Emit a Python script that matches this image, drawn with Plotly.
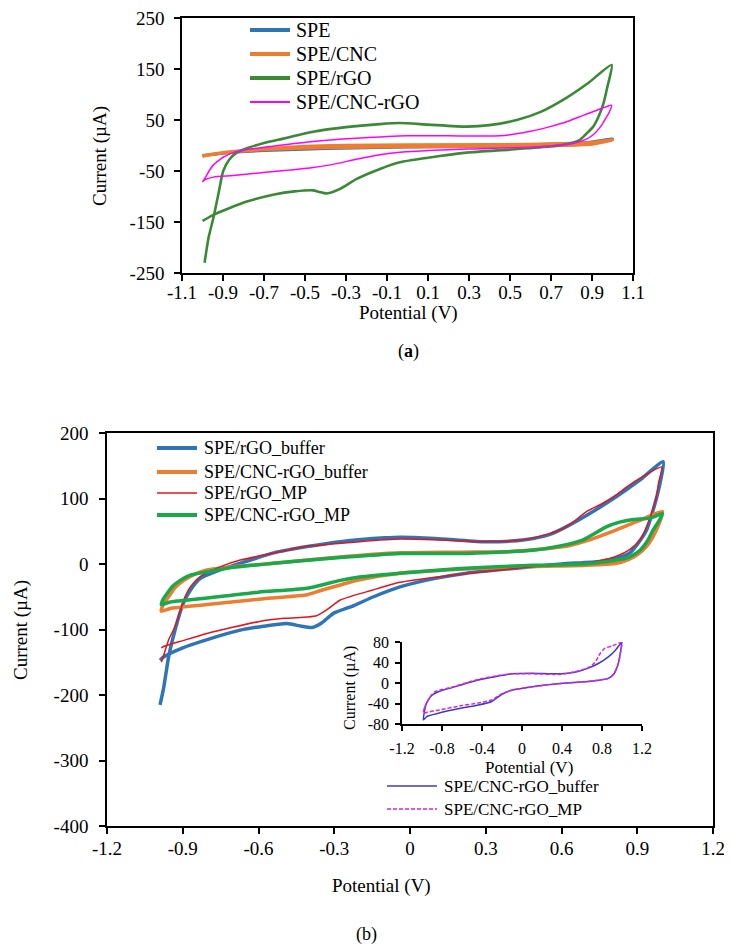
import plotly.graph_objects as go

W, H = 732, 948
OFF = 8  # page body margin in the browser

# ---------------- data: panel (a) ----------------
a_spe_v = [-1.0, -0.9, -0.7, -0.5, -0.3, 0.0, 0.3, 0.6, 0.8, 0.9, 1.0, 0.9, 0.7, 0.4, 0.0, -0.4, -0.7, -0.9, -1.0]
a_spe_i = [-20, -15, -8, -3, -1, 0, 1, 2, 4, 7, 13, 4, 0, -2, -3, -6, -10, -15, -20]

a_cnc_v = [-1.0, -0.98, -0.9, -0.7, -0.5, -0.3, 0.0, 0.3, 0.6, 0.8, 0.9, 1.0, 0.9, 0.7, 0.4, 0.0, -0.4, -0.7, -0.9, -1.0]
a_cnc_i = [-21, -19, -14, -7, -2, 0, 1, 1, 2, 4, 6, 11, 3, 0, -1, -2, -4, -8, -14, -20]

a_rgo_v = [-0.99, -0.97, -0.947, -0.92, -0.899, -0.87, -0.833, -0.78, -0.70, -0.6, -0.46, -0.3, -0.134, -0.04,
           0.1, 0.29, 0.4, 0.533, 0.65, 0.777, 0.88, 0.996,
           0.975, 0.955, 0.93, 0.906, 0.87, 0.841, 0.78, 0.695, 0.5, 0.289, 0.1, -0.037, -0.134, -0.25,
           -0.329, -0.394, -0.43, -0.46, -0.55, -0.65, -0.784, -0.87, -0.947, -1.0]
a_rgo_i = [-230, -180, -142, -90, -50, -28, -14, -5, 5, 14, 27, 36, 42, 44,
           41, 37, 40, 50, 66, 94, 122, 158,
           115, 81, 55, 37, 22, 11, 3, -2, -8, -14, -24, -33, -46, -66,
           -85, -94, -91, -88, -90, -96, -110, -123, -136, -148]

a_cncrgo_v = [-1.0, -0.985, -0.965, -0.947, -0.92, -0.899, -0.85, -0.784, -0.65, -0.46, -0.25, 0.0, 0.2, 0.451,
              0.6, 0.695, 0.78, 0.857, 0.93, 0.996,
              0.985, 0.971, 0.94, 0.906, 0.87, 0.825, 0.75, 0.613, 0.289, 0.1, -0.037, -0.134, -0.25, -0.362,
              -0.46, -0.6, -0.703, -0.85, -0.947, -0.988, -1.0]
a_cncrgo_i = [-72, -62, -48, -38, -29, -23, -14, -8, -1, 8, 14, 19, 19, 19,
              28, 37, 47, 59, 70, 79,
              66, 56, 36, 21, 12, 6, 1, -3, -7, -10, -13, -18, -27, -37,
              -43, -49, -53, -59, -62, -67, -71]

# ---------------- data: panel (b) ----------------
b_rgo_buf_v = [-0.99, -0.976, -0.955, -0.93, -0.9, -0.87, -0.83, -0.738, -0.64, -0.54, -0.4, -0.276, -0.1, -0.038,
               0.1, 0.29, 0.4, 0.488, 0.56, 0.62, 0.72, 0.818, 0.91, 1.003,
               0.99, 0.965, 0.937, 0.9, 0.871, 0.81, 0.752, 0.6, 0.488, 0.224, 0.1, -0.04, -0.144, -0.22,
               -0.302, -0.35, -0.388, -0.43, -0.487, -0.58, -0.672, -0.8, -0.9, -0.976, -0.99]
b_rgo_buf_i = [-215, -190, -140, -100, -62, -40, -22, -7, 5, 17, 27, 34, 40, 41,
               39, 34, 35, 39, 46, 57, 79, 103, 128, 156,
               123, 85, 52, 30, 17, 8, 4, 0, -4, -14, -22, -35, -50, -63,
               -75, -90, -97, -95, -91, -95, -101, -115, -128, -142, -147]

b_cnc_buf_v = [-0.985, -0.975, -0.956, -0.93, -0.896, -0.85, -0.804, -0.7, -0.54, -0.3, -0.038, 0.2, 0.4,
               0.62, 0.72, 0.818, 0.9, 1.0,
               0.985, 0.96, 0.937, 0.9, 0.86, 0.818, 0.7, 0.488, 0.2, -0.04, -0.2, -0.276, -0.35, -0.408,
               -0.55, -0.804, -0.95, -0.985]
b_cnc_buf_i = [-72, -60, -50, -36, -25, -15, -9, -4, 1, 10, 17, 18, 19,
               27, 38, 52, 65, 80,
               60, 40, 27, 14, 6, 1, -2, -4, -8, -14, -24, -32, -40, -47,
               -52, -62, -68, -72]

b_rgo_mp_v = [-0.985, -0.976, -0.955, -0.936, -0.915, -0.896, -0.87, -0.83, -0.75, -0.672, -0.55, -0.408, -0.2,
              -0.038, 0.1, 0.3, 0.45, 0.55, 0.6, 0.646, 0.699, 0.76, 0.818, 0.86, 0.911, 0.997,
              0.985, 0.976, 0.95, 0.911, 0.87, 0.818, 0.75, 0.686, 0.5, 0.356, 0.15, -0.04, -0.15, -0.276,
              -0.33, -0.37, -0.408, -0.5, -0.6, -0.804, -0.9, -0.976, -0.985]
b_rgo_mp_i = [-150, -140, -115, -100, -78, -55, -35, -19, -4, 6, 16, 27, 34,
              38, 37, 34, 37, 46, 53, 64, 80, 92, 106, 118, 131, 148,
              125, 103, 70, 37, 22, 12, 5, 1, -4, -9, -18, -28, -40, -55,
              -70, -79, -81, -83, -88, -106, -117, -126, -128]

b_cnc_mp_v = [-0.985, -0.975, -0.962, -0.94, -0.91, -0.87, -0.804, -0.7, -0.54, -0.3, -0.038, 0.2, 0.488,
              0.6, 0.686, 0.779, 0.83, 0.884, 0.95, 1.0,
              0.985, 0.963, 0.94, 0.911, 0.87, 0.818, 0.686, 0.488, 0.2, -0.04, -0.2, -0.276, -0.408,
              -0.6, -0.804, -0.95, -0.985]
b_cnc_mp_i = [-62, -52, -45, -34, -25, -17, -12, -5, 1, 9, 16, 16, 21,
              28, 37, 57, 64, 68, 70, 77,
              65, 52, 35, 21, 11, 6, 0, -2, -7, -14, -20, -25, -37,
              -43, -52, -58, -62]

# inset
in_buf_v = [-0.987, -0.975, -0.96, -0.937, -0.9, -0.837, -0.7, -0.437, -0.25, -0.103, 0.1, 0.397, 0.55,
            0.663, 0.763, 0.863, 0.93, 0.997,
            0.985, 0.963, 0.92, 0.863, 0.75, 0.663, 0.45, 0.23, 0.05, -0.103, -0.2, -0.303, -0.437,
            -0.6, -0.837, -0.95, -0.987]
in_buf_i = [-72, -55, -42, -33, -24, -17, -9, 6, 13, 18, 19, 18, 22,
            29, 38, 51, 63, 79,
            60, 38, 18, 9, 5, 3, 0, -4, -9, -14, -22, -36, -43,
            -49, -59, -65, -72]

in_mp_v = [-0.987, -0.975, -0.95, -0.92, -0.87, -0.7, -0.437, -0.25, -0.103, 0.1, 0.397, 0.55,
           0.663, 0.73, 0.78, 0.83, 0.9, 0.997,
           0.985, 0.963, 0.92, 0.863, 0.663, 0.45, 0.23, 0.05, -0.103, -0.2, -0.303, -0.437,
           -0.6, -0.837, -0.95, -0.987]
in_mp_i = [-59, -48, -38, -27, -17, -8, 7, 14, 18, 18, 17, 23,
           30, 40, 57, 68, 72, 79,
           60, 38, 18, 9, 3, 0, -4, -9, -14, -21, -33, -39,
           -44, -53, -57, -59]

# tick labels
a_xticks = [-1.1, -0.9, -0.7, -0.5, -0.3, -0.1, 0.1, 0.3, 0.5, 0.7, 0.9, 1.1]
a_xtext = ["-1.1", "-0.9", "-0.7", "-0.5", "-0.3", "-0.1", "0.1", "0.3", "0.5", "0.7", "0.9", "1.1"]
a_yticks = [-250, -150, -50, 50, 150, 250]
a_ytext = ["-250", "-150", "-50", "50", "150", "250"]
b_xticks = [-1.2, -0.9, -0.6, -0.3, 0, 0.3, 0.6, 0.9, 1.2]
b_xtext = ["-1.2", "-0.9", "-0.6", "-0.3", "0", "0.3", "0.6", "0.9", "1.2"]
b_yticks = [-400, -300, -200, -100, 0, 100, 200]
b_ytext = ["-400", "-300", "-200", "-100", "0", "100", "200"]
i_xticks = [-1.2, -0.8, -0.4, 0, 0.4, 0.8, 1.2]
i_xtext = ["-1.2", "-0.8", "-0.4", "0", "0.4", "0.8", "1.2"]
i_yticks = [-80, -40, 0, 40, 80]
i_ytext = ["-80", "-40", "0", "40", "80"]

FONT = "Liberation Serif"
BLUE, ORANGE, DGREEN, MAG = "#2E75B6", "#ED7D31", "#3A8A35", "#FF00FF"
RED, GREEN, IBLUE, IMAG = "#E3141E", "#19A84A", "#3B3BC4", "#E020E0"
SHORTDASH = "4px,2px"

FW, FH = W - OFF, H - OFF


def px(x):
    return (x - OFF) / FW


def py(y):
    return 1 - (y - OFF) / FH


SM = 0.6
fig = go.Figure()
# panel a
fig.add_trace(go.Scatter(x=a_spe_v, y=a_spe_i, mode="lines", name="SPE",
                         line=dict(color=BLUE, width=3, shape="spline", smoothing=SM), xaxis="x", yaxis="y"))
fig.add_trace(go.Scatter(x=a_cnc_v, y=a_cnc_i, mode="lines", name="SPE/CNC",
                         line=dict(color=ORANGE, width=3.5, shape="spline", smoothing=SM), xaxis="x", yaxis="y"))
fig.add_trace(go.Scatter(x=a_rgo_v, y=a_rgo_i, mode="lines", name="SPE/rGO",
                         line=dict(color=DGREEN, width=2.6, shape="spline", smoothing=SM), xaxis="x", yaxis="y"))
fig.add_trace(go.Scatter(x=a_cncrgo_v, y=a_cncrgo_i, mode="lines", name="SPE/CNC-rGO",
                         line=dict(color=MAG, width=1.5, shape="spline", smoothing=SM), xaxis="x", yaxis="y"))
# panel b
fig.add_trace(go.Scatter(x=b_rgo_buf_v, y=b_rgo_buf_i, mode="lines", name="SPE/rGO_buffer",
                         line=dict(color=BLUE, width=3.5, shape="spline", smoothing=SM), xaxis="x2", yaxis="y2"))
fig.add_trace(go.Scatter(x=b_cnc_buf_v, y=b_cnc_buf_i, mode="lines", name="SPE/CNC-rGO_buffer",
                         line=dict(color=ORANGE, width=3.5, shape="spline", smoothing=SM), xaxis="x2", yaxis="y2"))
fig.add_trace(go.Scatter(x=b_rgo_mp_v, y=b_rgo_mp_i, mode="lines", name="SPE/rGO_MP",
                         line=dict(color=RED, width=1.5, shape="spline", smoothing=SM), xaxis="x2", yaxis="y2"))
fig.add_trace(go.Scatter(x=b_cnc_mp_v, y=b_cnc_mp_i, mode="lines", name="SPE/CNC-rGO_MP",
                         line=dict(color=GREEN, width=3.5, shape="spline", smoothing=SM), xaxis="x2", yaxis="y2"))
# inset
fig.add_trace(go.Scatter(x=in_buf_v, y=in_buf_i, mode="lines", name="SPE/CNC-rGO_buffer",
                         line=dict(color=IBLUE, width=1.5, shape="spline", smoothing=SM), xaxis="x3", yaxis="y3"))
fig.add_trace(go.Scatter(x=in_mp_v, y=in_mp_i, mode="lines", name="SPE/CNC-rGO_MP",
                         line=dict(color=IMAG, width=1.5, dash=SHORTDASH, shape="spline", smoothing=SM),
                         xaxis="x3", yaxis="y3"))

for tr in fig.data:
    tr.showlegend = False

axcommon = dict(showgrid=False, zeroline=False, showline=True, linecolor="black", linewidth=1.5,
                ticks="outside", ticklen=6, tickwidth=1.5, tickcolor="black", ticklabeloverflow="allow",
                tickfont=dict(family=FONT, size=19, color="black"))

layout = dict(
    width=FW, height=FH, margin=dict(l=0, r=0, t=0, b=0, autoexpand=False),
    paper_bgcolor="white", plot_bgcolor="rgba(0,0,0,0)",
    showlegend=False,
    xaxis=dict(axcommon, domain=[px(182), px(633)], range=[-1.1, 1.1], tickmode="array",
               tickvals=a_xticks, ticktext=a_xtext, mirror=True, anchor="y", ticklabelstandoff=-5),
    yaxis=dict(axcommon, domain=[py(273), py(18)], range=[-250, 250], tickmode="array",
               tickvals=a_yticks, ticktext=a_ytext, mirror=True, anchor="x", ticklabelstandoff=6),
    xaxis2=dict(axcommon, domain=[px(107), px(713)], range=[-1.2, 1.2], tickmode="array",
                tickvals=b_xticks, ticktext=b_xtext, mirror=True, anchor="y2", ticklabelstandoff=-2),
    yaxis2=dict(axcommon, domain=[py(826), py(433)], range=[-400, 200], tickmode="array",
                tickvals=b_yticks, ticktext=b_ytext, mirror=True, anchor="x2", ticklabelstandoff=7),
    xaxis3=dict(axcommon, domain=[px(402), px(642)], range=[-1.2, 1.2], tickmode="array",
                tickvals=i_xticks, ticktext=i_xtext, anchor="y3", ticklen=5,
                tickfont=dict(family=FONT, size=16, color="black"), ticklabelstandoff=4),
    yaxis3=dict(axcommon, domain=[py(724), py(642)], range=[-80, 80], tickmode="array",
                tickvals=i_yticks, ticktext=i_ytext, anchor="x3", ticklen=5,
                tickfont=dict(family=FONT, size=16, color="black"), ticklabelstandoff=3),
)
fig.update_layout(**layout)


def txt(x, y, s, size=19, angle=0, xanchor="center"):
    fig.add_annotation(x=px(x), y=py(y), xref="paper", yref="paper", text=s, showarrow=False,
                       textangle=angle, xanchor=xanchor, yanchor="middle",
                       font=dict(family=FONT, size=size, color="black"))


def legline(x0, x1, y, color, width, dash="solid"):
    fig.add_shape(type="line", xref="paper", yref="paper", x0=px(x0), x1=px(x1), y0=py(y), y1=py(y),
                  line=dict(color=color, width=width, dash=dash))


# panel a titles
txt(100, 156, "Current (µA)", 19, -90)
txt(408, 313, "Potential (V)", 19)
txt(408, 351, "(<b>a</b>)", 18)
# panel a legend
a_leg = [("SPE", BLUE, 4), ("SPE/CNC", ORANGE, 4), ("SPE/rGO", DGREEN, 4), ("SPE/CNC-rGO", MAG, 1.8)]
for k, (name, c, w) in enumerate(a_leg):
    yy = 30 + 24 * k
    legline(250, 290, yy, c, w)
    txt(294, yy, name, 20, xanchor="left")

# panel b titles
txt(21, 630, "Current (µA)", 19, -90)
txt(382, 886, "Potential (V)", 19)
txt(366, 934, "(b)", 18)
b_leg = [("SPE/rGO_buffer", BLUE, 4), ("SPE/CNC-rGO_buffer", ORANGE, 4), ("SPE/rGO_MP", RED, 1.5),
         ("SPE/CNC-rGO_MP", GREEN, 4)]
b_y = [448, 472, 493, 515]
for (name, c, w), yy in zip(b_leg, b_y):
    legline(157, 197, yy, c, w)
    txt(202, yy, name, 18, xanchor="left")

# inset titles / legend
txt(350, 688, "Current (µA)", 16, -90)
txt(529, 767, "Potential (V)", 17)
legline(387, 437, 786, IBLUE, 1.5)
txt(442, 786, "SPE/CNC-rGO_buffer", 17, xanchor="left")
legline(387, 437, 809, IMAG, 1.5, SHORTDASH)
txt(442, 809, "SPE/CNC-rGO_MP", 17, xanchor="left")

fig.write_html("out.html")
